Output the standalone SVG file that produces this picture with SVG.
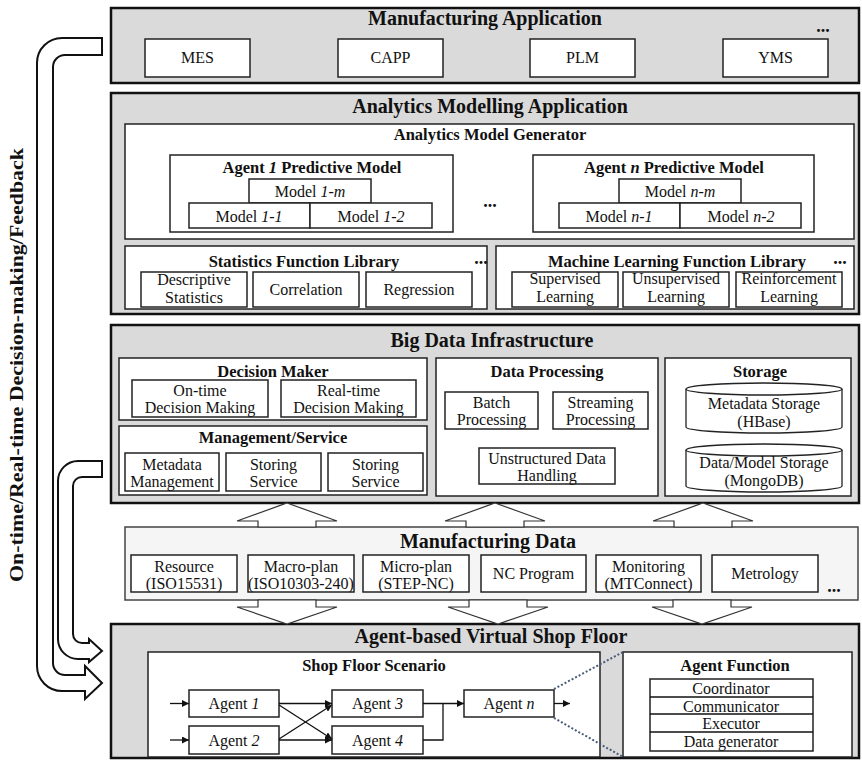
<svg xmlns="http://www.w3.org/2000/svg" width="862" height="760" viewBox="0 0 862 760">
<defs>
<style>
.outer{fill:#dadada;stroke:#111;stroke-width:2.5}
.box{fill:#fff;stroke:#222;stroke-width:1.5}
.md{fill:#f5f5f5;stroke:#444;stroke-width:1.5}
.cyl{fill:#fff;stroke:#222;stroke-width:1.3}
.t{font-family:"Liberation Serif","Times New Roman",serif;fill:#111;text-anchor:middle}
.h1{font-size:20px;font-weight:bold}
.h2{font-size:16.5px;font-weight:bold}
.r{font-size:16px}
.dots{font-size:18px;font-weight:bold}
.big{fill:#fff;stroke:#111;stroke-width:2}
.hol{fill:#fff;stroke:#333;stroke-width:1.2}
.ln{fill:none;stroke:#111;stroke-width:1.3}
.dot{fill:none;stroke:#4a5a7a;stroke-width:2;stroke-dasharray:2 2}
</style>
<marker id="ah" viewBox="0 0 10 10" refX="10" refY="5" markerWidth="7" markerHeight="7" orient="auto" markerUnits="userSpaceOnUse">
<path d="M0,0 L10,5 L0,10 Z" fill="#111"/>
</marker>
</defs>

<g id="manufacturing-application">
<rect class="outer" x="111" y="8" width="748" height="75"/>
<text class="t h1" x="485" y="25">Manufacturing Application</text>
<text class="t dots" x="823" y="32">...</text>
<rect class="box" x="145" y="39" width="105" height="38"/>
<text class="t r" x="197.5" y="63">MES</text>
<rect class="box" x="338" y="39" width="105" height="38"/>
<text class="t r" x="390.5" y="63">CAPP</text>
<rect class="box" x="530" y="39" width="105" height="38"/>
<text class="t r" x="582.5" y="63">PLM</text>
<rect class="box" x="723" y="39" width="105" height="38"/>
<text class="t r" x="775.5" y="63">YMS</text>
</g>

<g id="analytics-modelling-application">
<rect class="outer" x="111" y="93" width="748" height="221"/>
<text class="t h1" x="490" y="113">Analytics Modelling Application</text>
<rect class="box" x="125" y="124" width="729" height="115"/>
<text class="t h2" x="490" y="140">Analytics Model Generator</text>
<rect class="box" x="170" y="155" width="283" height="77"/>
<text class="t h2" x="312" y="173">Agent <tspan font-style="italic">1</tspan> Predictive Model</text>
<rect class="box" x="249" y="179" width="122" height="24"/>
<text class="t r" x="310" y="197">Model <tspan font-style="italic">1-m</tspan></text>
<rect class="box" x="189" y="203" width="121" height="25"/>
<text class="t r" x="249" y="222">Model <tspan font-style="italic">1-1</tspan></text>
<rect class="box" x="310" y="203" width="122" height="25"/>
<text class="t r" x="371" y="222">Model <tspan font-style="italic">1-2</tspan></text>
<text class="t dots" x="490" y="207">...</text>
<rect class="box" x="533" y="155" width="281" height="77"/>
<text class="t h2" x="674" y="173">Agent <tspan font-style="italic">n</tspan> Predictive Model</text>
<rect class="box" x="619" y="179" width="122" height="24"/>
<text class="t r" x="680" y="197">Model <tspan font-style="italic">n-m</tspan></text>
<rect class="box" x="559" y="203" width="121" height="25"/>
<text class="t r" x="619" y="222">Model <tspan font-style="italic">n-1</tspan></text>
<rect class="box" x="680" y="203" width="121" height="25"/>
<text class="t r" x="741" y="222">Model <tspan font-style="italic">n-2</tspan></text>
<rect class="box" x="125" y="246" width="362" height="63"/>
<text class="t h2" x="304" y="267">Statistics Function Library</text>
<text class="t dots" x="481" y="264">...</text>
<rect class="box" x="141" y="272" width="106" height="35"/>
<text class="t r" x="194" y="285">Descriptive</text>
<text class="t r" x="194" y="303">Statistics</text>
<rect class="box" x="253" y="272" width="106" height="35"/>
<text class="t r" x="306" y="295">Correlation</text>
<rect class="box" x="366" y="272" width="106" height="35"/>
<text class="t r" x="419" y="295">Regression</text>
<rect class="box" x="496" y="246" width="358" height="63"/>
<text class="t h2" x="677" y="267">Machine Learning Function Library</text>
<text class="t dots" x="840" y="264">...</text>
<rect class="box" x="512" y="272" width="106" height="35"/>
<text class="t r" x="565" y="284">Supervised</text>
<text class="t r" x="565" y="302">Learning</text>
<rect class="box" x="623" y="272" width="106" height="35"/>
<text class="t r" x="676" y="284">Unsupervised</text>
<text class="t r" x="676" y="302">Learning</text>
<rect class="box" x="736" y="272" width="106" height="35"/>
<text class="t r" x="789" y="284">Reinforcement</text>
<text class="t r" x="789" y="302">Learning</text>
</g>

<g id="big-data-infrastructure">
<rect class="outer" x="111" y="325" width="748" height="178"/>
<text class="t h1" x="492" y="347">Big Data Infrastructure</text>
<rect class="box" x="119" y="358" width="308" height="62"/>
<text class="t h2" x="273" y="377">Decision Maker</text>
<rect class="box" x="132" y="380" width="136" height="37"/>
<text class="t r" x="200" y="396">On-time</text>
<text class="t r" x="200" y="413">Decision Making</text>
<rect class="box" x="281" y="380" width="135" height="37"/>
<text class="t r" x="348.5" y="396">Real-time</text>
<text class="t r" x="348.5" y="413">Decision Making</text>
<rect class="box" x="119" y="426" width="308" height="69"/>
<text class="t h2" x="273" y="443">Management/Service</text>
<rect class="box" x="125" y="453" width="94" height="38"/>
<text class="t r" x="172" y="470">Metadata</text>
<text class="t r" x="172" y="487">Management</text>
<rect class="box" x="226" y="453" width="95" height="38"/>
<text class="t r" x="273.5" y="470">Storing</text>
<text class="t r" x="273.5" y="487">Service</text>
<rect class="box" x="328" y="453" width="95" height="38"/>
<text class="t r" x="375.5" y="470">Storing</text>
<text class="t r" x="375.5" y="487">Service</text>
<rect class="box" x="436" y="358" width="222" height="138"/>
<text class="t h2" x="547" y="377">Data Processing</text>
<rect class="box" x="445" y="392" width="93" height="37"/>
<text class="t r" x="491.5" y="408">Batch</text>
<text class="t r" x="491.5" y="425">Processing</text>
<rect class="box" x="553" y="392" width="95" height="37"/>
<text class="t r" x="600.5" y="408">Streaming</text>
<text class="t r" x="600.5" y="425">Processing</text>
<rect class="box" x="479" y="448" width="136" height="36"/>
<text class="t r" x="547" y="464">Unstructured Data</text>
<text class="t r" x="547" y="481">Handling</text>
<rect class="box" x="665" y="358" width="186" height="138"/>
<text class="t h2" x="760" y="377">Storage</text>
<path class="cyl" d="M686,389 V427 A78,6 0 0 0 842,427 V389"/>
<ellipse class="cyl" cx="764" cy="389" rx="78" ry="6"/>
<text class="t r" x="764" y="409">Metadata Storage</text>
<text class="t r" x="764" y="427">(HBase)</text>
<path class="cyl" d="M686,450 V486 A78,6 0 0 0 842,486 V450"/>
<ellipse class="cyl" cx="764" cy="450" rx="78" ry="6"/>
<text class="t r" x="764" y="468">Data/Model Storage</text>
<text class="t r" x="764" y="486">(MongoDB)</text>
</g>

<g id="manufacturing-data">
<rect class="md" x="125" y="527" width="733" height="73"/>
<text class="t h1" x="488" y="548">Manufacturing Data</text>
<rect class="box" x="131" y="555" width="106" height="37"/>
<text class="t r" x="184" y="572">Resource</text>
<text class="t r" x="184" y="589">(ISO15531)</text>
<rect class="box" x="248" y="555" width="106" height="37"/>
<text class="t r" x="301" y="572">Macro-plan</text>
<text class="t r" x="301" y="589">(ISO10303-240)</text>
<rect class="box" x="363" y="555" width="106" height="37"/>
<text class="t r" x="416" y="572">Micro-plan</text>
<text class="t r" x="416" y="589">(STEP-NC)</text>
<rect class="box" x="481" y="555" width="105" height="37"/>
<text class="t r" x="533.5" y="579">NC Program</text>
<rect class="box" x="596" y="555" width="105" height="37"/>
<text class="t r" x="648.5" y="572">Monitoring</text>
<text class="t r" x="648.5" y="589">(MTConnect)</text>
<rect class="box" x="712" y="555" width="106" height="37"/>
<text class="t r" x="765" y="579">Metrology</text>
<text class="t dots" x="834" y="592">...</text>
</g>

<g id="agent-based-virtual-shop-floor">
<rect class="outer" x="111" y="624" width="748" height="134"/>
<text class="t h1" x="491" y="643">Agent-based Virtual Shop Floor</text>
<rect class="box" x="148" y="652" width="452" height="105"/>
<text class="t h2" x="374" y="671">Shop Floor Scenario</text>
<rect class="box" x="189" y="690" width="90" height="27"/>
<text class="t r" x="234" y="709">Agent <tspan font-style="italic">1</tspan></text>
<rect class="box" x="189" y="726" width="90" height="28"/>
<text class="t r" x="234" y="746">Agent <tspan font-style="italic">2</tspan></text>
<rect class="box" x="332" y="690" width="91" height="27"/>
<text class="t r" x="377.5" y="709">Agent <tspan font-style="italic">3</tspan></text>
<rect class="box" x="332" y="726" width="91" height="28"/>
<text class="t r" x="377.5" y="746">Agent <tspan font-style="italic">4</tspan></text>
<rect class="box" x="464" y="690" width="90" height="27"/>
<text class="t r" x="509" y="709">Agent <tspan font-style="italic">n</tspan></text>
<rect class="box" x="623" y="652" width="229" height="105"/>
<text class="t h2" x="735" y="671">Agent Function</text>
<rect class="box" x="650" y="679" width="163" height="72"/>
<line class="ln" x1="650" y1="697" x2="813" y2="697"/>
<line class="ln" x1="650" y1="714" x2="813" y2="714"/>
<line class="ln" x1="650" y1="732" x2="813" y2="732"/>
<text class="t r" x="731" y="694">Coordinator</text>
<text class="t r" x="731" y="712">Communicator</text>
<text class="t r" x="731" y="729">Executor</text>
<text class="t r" x="731" y="747">Data generator</text>
</g>

<g id="feedback-label">
<text class="t" x="23" y="365" transform="rotate(-90 23 365)" font-size="19" font-weight="bold" textLength="434" lengthAdjust="spacingAndGlyphs">On-time/Real-time Decision-making/Feedback</text>
</g>

<g id="connectors">
<path class="big" d="M102,38 H62 A25,25 0 0 0 37,63 V666 A25,25 0 0 0 62,691 H85 V699 L102,683 L85,666 V675 H65 A12,12 0 0 1 53,663 V67 A12,12 0 0 1 65,55 H102 Z"/>
<path class="big" d="M102,461 H78 A20,20 0 0 0 58,481 V639 A20,20 0 0 0 78,659 H89 V662 L102,651 L89,639 V643 H82 A9,9 0 0 1 73,634 V486 A9,9 0 0 1 82,477 H102 Z"/>
<path class="hol" d="M287,503 L337,521 H316 V527 H258 V521 H237 Z"/>
<path class="hol" d="M495,503 L545,521 H524 V527 H466 V521 H445 Z"/>
<path class="hol" d="M703,503 L753,521 H732 V527 H674 V521 H653 Z"/>
<path class="hol" d="M258,600 V607 H237 L287,624 L337,607 H316 V600 Z"/>
<path class="hol" d="M469,600 V607 H448 L498,624 L548,607 H527 V600 Z"/>
<path class="hol" d="M673,600 V607 H652 L702,624 L752,607 H731 V600 Z"/>
<line class="ln" x1="170" y1="703.5" x2="189" y2="703.5" marker-end="url(#ah)"/>
<line class="ln" x1="170" y1="740" x2="189" y2="740" marker-end="url(#ah)"/>
<line class="ln" x1="279" y1="703.5" x2="332" y2="703.5" marker-end="url(#ah)"/>
<line class="ln" x1="279" y1="740" x2="332" y2="740" marker-end="url(#ah)"/>
<line class="ln" x1="279" y1="705" x2="332" y2="739" marker-end="url(#ah)"/>
<line class="ln" x1="279" y1="739" x2="332" y2="705" marker-end="url(#ah)"/>
<line class="ln" x1="423" y1="703.5" x2="464" y2="703.5" marker-end="url(#ah)"/>
<polyline class="ln" points="423,740 443,740 443,703.5"/>
<line class="ln" x1="554" y1="703.5" x2="570" y2="703.5" marker-end="url(#ah)"/>
<line class="dot" x1="554" y1="689" x2="623" y2="652"/>
<line class="dot" x1="554" y1="718" x2="623" y2="757"/>
</g>
</svg>
